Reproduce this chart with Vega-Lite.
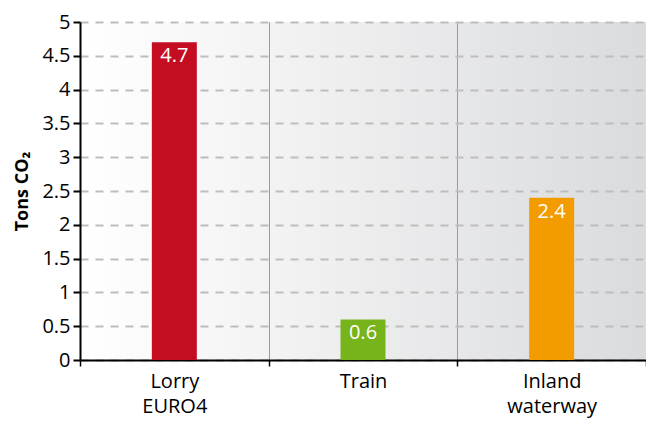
{
  "$schema": "https://vega.github.io/schema/vega-lite/v6.json",
  "width": 566,
  "height": 338,
  "autosize": {"type": "none"},
  "padding": {"left": 80, "top": 22, "right": 0, "bottom": 61},
  "config": {
    "font": "Open Sans",
    "view": {
      "stroke": null,
      "fill": {
        "gradient": "linear",
        "x1": 0, "y1": 0, "x2": 1, "y2": 0,
        "stops": [
          {"offset": 0, "color": "#ffffff"},
          {"offset": 1, "color": "#dadbdd"}
        ]
      }
    }
  },
  "data": {
    "values": [
      {"mode": "Lorry|EURO4", "co2": 4.7, "label": "4.7", "color": "#c50d22"},
      {"mode": "Train", "co2": 0.6, "label": "0.6", "color": "#77b41c"},
      {"mode": "Inland|waterway", "co2": 2.4, "label": "2.4", "color": "#f39c00"}
    ]
  },
  "encoding": {
    "x": {
      "field": "mode",
      "type": "nominal",
      "sort": null,
      "scale": {"paddingInner": 0, "paddingOuter": 0},
      "axis": {
        "title": null,
        "labelAngle": 0,
        "labelExpr": "split(datum.label, '|')",
        "labelFontSize": 20,
        "labelColor": "#000000",
        "labelLineHeight": 25,
        "labelPadding": 5,
        "domainColor": "#000000",
        "domainWidth": 2,
        "tickColor": "#000000",
        "tickWidth": 1.5,
        "tickSize": 6,
        "tickBand": "extent",
        "grid": true,
        "gridColor": "#9a9a9a",
        "gridWidth": 1
      }
    },
    "y": {
      "field": "co2",
      "type": "quantitative",
      "scale": {"domain": [0, 5], "nice": false},
      "axis": {
        "title": "Tons CO₂",
        "titleFontSize": 18,
        "titleFontWeight": "bold",
        "titleColor": "#000000",
        "titlePadding": 10,
        "values": [0, 0.5, 1, 1.5, 2, 2.5, 3, 3.5, 4, 4.5, 5],
        "format": "~g",
        "labelOverlap": false,
        "labelFontSize": 20,
        "labelColor": "#000000",
        "labelPadding": 3,
        "domainColor": "#000000",
        "domainWidth": 2,
        "tickColor": "#000000",
        "tickWidth": 2,
        "tickSize": 7,
        "grid": true,
        "gridColor": "#bdbdbd",
        "gridWidth": 2,
        "gridDash": [8, 7]
      }
    }
  },
  "layer": [
    {
      "mark": {"type": "bar", "size": 45},
      "encoding": {
        "color": {"field": "color", "type": "nominal", "scale": null}
      }
    },
    {
      "mark": {"type": "text", "color": "#ffffff", "fontSize": 20, "baseline": "top", "dy": 4},
      "encoding": {
        "text": {"field": "label"}
      }
    }
  ]
}
